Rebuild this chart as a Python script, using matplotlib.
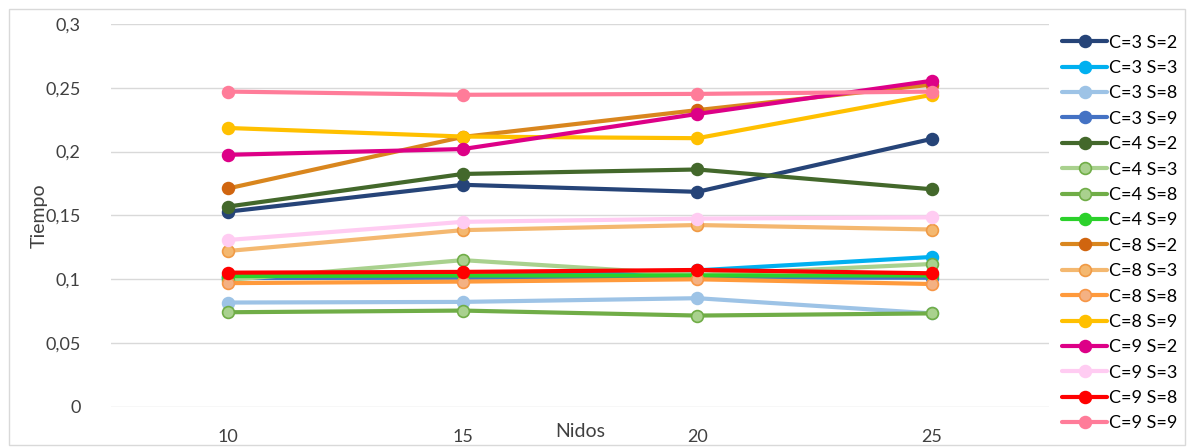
import matplotlib
matplotlib.use("Agg")
import matplotlib.pyplot as plt
from matplotlib.ticker import FuncFormatter, MultipleLocator
from matplotlib.patches import Rectangle

# tiempo medio por numero de nidos, para cada combinacion C / S
nidos = ["10", "15", "20", "25"]

c3_s2 = [0.1530, 0.1740, 0.1685, 0.2100]
c3_s3 = [0.1020, 0.1025, 0.1070, 0.1175]
c3_s8 = [0.0818, 0.0823, 0.0852, 0.0733]
c3_s9 = [0.1010, 0.1012, 0.1015, 0.1012]
c4_s2 = [0.1570, 0.1825, 0.1860, 0.1705]
c4_s3 = [0.0995, 0.1150, 0.1035, 0.1120]
c4_s8 = [0.0742, 0.0755, 0.0716, 0.0733]
c4_s9 = [0.1025, 0.1030, 0.1030, 0.1030]
c8_s2 = [0.1712, 0.2115, 0.2325, 0.2525]
c8_s3 = [0.1222, 0.1385, 0.1425, 0.1390]
c8_s8 = [0.0970, 0.0982, 0.1000, 0.0963]
c8_s9 = [0.2185, 0.2118, 0.2105, 0.2445]
c9_s2 = [0.1975, 0.2020, 0.2295, 0.2555]
c9_s3 = [0.1308, 0.1450, 0.1475, 0.1485]
c9_s8 = [0.1052, 0.1058, 0.1073, 0.1047]
c9_s9 = [0.2470, 0.2445, 0.2452, 0.2470]

series = [
    ("C=3 S=2", c3_s2, "#264478", "#264478", "#264478"),
    ("C=3 S=3", c3_s3, "#00B0F0", "#00B0F0", "#00B0F0"),
    ("C=3 S=8", c3_s8, "#9DC3E6", "#9DC3E6", "#9DC3E6"),
    ("C=3 S=9", c3_s9, "#4472C4", "#4472C4", "#4472C4"),
    ("C=4 S=2", c4_s2, "#43682B", "#43682B", "#43682B"),
    ("C=4 S=3", c4_s3, "#A9D18E", "#A9D18E", "#70AD47"),
    ("C=4 S=8", c4_s8, "#70AD47", "#A9D18E", "#70AD47"),
    ("C=4 S=9", c4_s9, "#2BD12B", "#2BD12B", "#2BD12B"),
    ("C=8 S=2", c8_s2, "#D9861E", "#D0650F", "#D0650F"),
    ("C=8 S=3", c8_s3, "#F4B870", "#F4B870", "#F09A45"),
    ("C=8 S=8", c8_s8, "#FF9A3C", "#F4B183", "#F79646"),
    ("C=8 S=9", c8_s9, "#FFC000", "#FFC000", "#FFC000"),
    ("C=9 S=2", c9_s2, "#DD0087", "#DD0087", "#DD0087"),
    ("C=9 S=3", c9_s3, "#FFCCF2", "#FFCCF2", "#FFCCF2"),
    ("C=9 S=8", c9_s8, "#FF0000", "#FF0000", "#FF0000"),
    ("C=9 S=9", c9_s9, "#FF7C99", "#FF7C99", "#FF7C99"),
]

plt.rcParams["font.family"] = ["Lato", "DejaVu Sans"]

fig = plt.figure(figsize=(11.87, 4.47), dpi=100)
ax = fig.add_axes([0.0935, 0.0895, 0.7905, 0.857])

# borde del area del grafico
fig.patches.append(Rectangle((0.008, 0.004), 0.99, 0.975, transform=fig.transFigure,
                             fill=False, edgecolor="#D9D9D9", linewidth=1))

x = list(range(len(nidos)))
for name, vals, lc, mfc, mec in series:
    ax.plot(x, vals, color=lc, linewidth=3, marker="o", markersize=8.5,
            markerfacecolor=mfc, markeredgecolor=mec, markeredgewidth=1.2,
            label=name, solid_capstyle="round")

ax.set_xlim(-0.5, len(nidos) - 0.5)
ax.set_ylim(0, 0.3)
ax.set_xticks(x)
ax.set_xticklabels(nidos)
ax.yaxis.set_major_locator(MultipleLocator(0.05))
ax.yaxis.set_major_formatter(FuncFormatter(lambda v, p: "{:g}".format(round(v, 2)).replace(".", ",")))

ax.grid(axis="y", color="#D9D9D9", linewidth=1)
ax.set_axisbelow(True)
for s in ax.spines.values():
    s.set_visible(False)
ax.tick_params(axis="both", length=0, labelsize=13, labelcolor="#404040")
ax.tick_params(axis="x", pad=16)
ax.tick_params(axis="y", pad=22)

ax.set_xlabel("Nidos", fontsize=14, color="#404040", labelpad=-16)
ax.set_ylabel("Tiempo", fontsize=14, color="#404040", labelpad=-2)

ax.legend(loc="upper left", bbox_to_anchor=(1.0, 1.005), frameon=False,
          fontsize=13, handlelength=2.5, handletextpad=0.1,
          labelspacing=0.52, borderaxespad=0.3)

fig.savefig("out.png", dpi=100)
